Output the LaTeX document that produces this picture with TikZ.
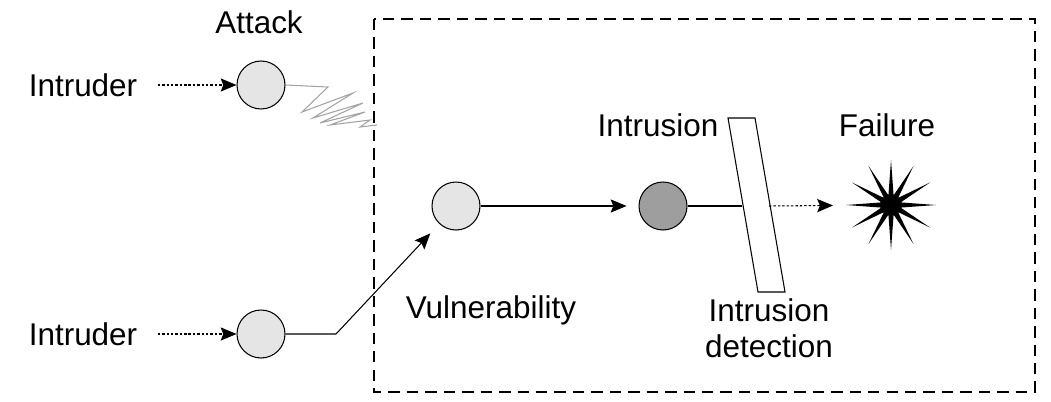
\documentclass[tikz,border=0pt]{standalone}
\usepackage{fontspec}
\setmainfont{Liberation Sans}
\usetikzlibrary{arrows.meta,shapes.geometric}
\definecolor{lightfill}{gray}{0.9}
\definecolor{darkfill}{gray}{0.62}
\definecolor{zigzag}{gray}{0.64}
\tikzset{
  state/.style={circle,draw,line width=0.6pt,minimum size=0.96cm,inner sep=0pt},
  lbl/.style={font=\fontsize{17.9}{20.5}\selectfont,inner sep=0pt},
  tip/.style={-{Stealth[length=9pt,width=7.5pt,inset=1.5pt]}},
  dots/.style={dash pattern=on 1.4pt off 1.1pt},
}

\begin{document}
\begin{tikzpicture}[x=0.02cm,y=-0.02cm,line width=0.6pt]
  \useasboundingbox (0,0) rectangle (1051,402);
  \draw[line width=0.9pt, dash pattern=on 6.5pt off 4pt] (374,19) rectangle (1035,392);
  % labels
  \node[lbl] (attacklbl) at (259,22) {Attack};
  \node[lbl] (intrusionlbl) at (658,125) {Intrusion};
  \node[lbl] (failurelbl) at (887,125) {Failure};
  \node[lbl] (vulnlbl) at (491,310) {Vulnerability};
  \node[lbl,align=center] (idslbl) at (769,328) {Intrusion\\detection};
  % states
  \foreach \y/\n in {85/A,334/B}
  { \node[lbl] (intruder\n) at (83,\y) {Intruder};
    \node[state,fill=lightfill] (state\n) at (261,\y) {};
    \draw[dots,tip] ([xshift=0.4cm]intruder\n.east) -- (state\n);}
  \node[state,fill=lightfill] (vuln) at (456,206) {};
  \node[state,fill=darkfill] (intrusion) at (663,206) {};
  \node[star,star points=12,star point ratio=4.5,fill=black,minimum size=1.8cm,inner sep=0pt] (failure) at (891,205) {};
  % intrusion detection bar
  \draw (728,118) -- (755,118) -- (785,292) -- (758,292) -- cycle;
  \coordinate (barL) at (742,206);
  \coordinate (barR) at (769,206);
  % connectors
  \draw[zigzag] (stateA.east) -- (328,87) -- (302,112) -- (353,93) -- (313,118)
    -- (363,103) -- (320,123) -- (365,112) -- (330,125) -- (370,120)
    -- (360,127) -- (377,125);
  \draw[tip,shorten >=0.26cm] (stateB) -- (336,334) -- (vuln);
  \draw[tip,shorten >=0.24cm] (vuln) -- (intrusion);
  \draw (intrusion) -- (barL);
  \draw[dots,tip,shorten >=0.22cm] (barR) -- (failure);
\end{tikzpicture}
\end{document}
